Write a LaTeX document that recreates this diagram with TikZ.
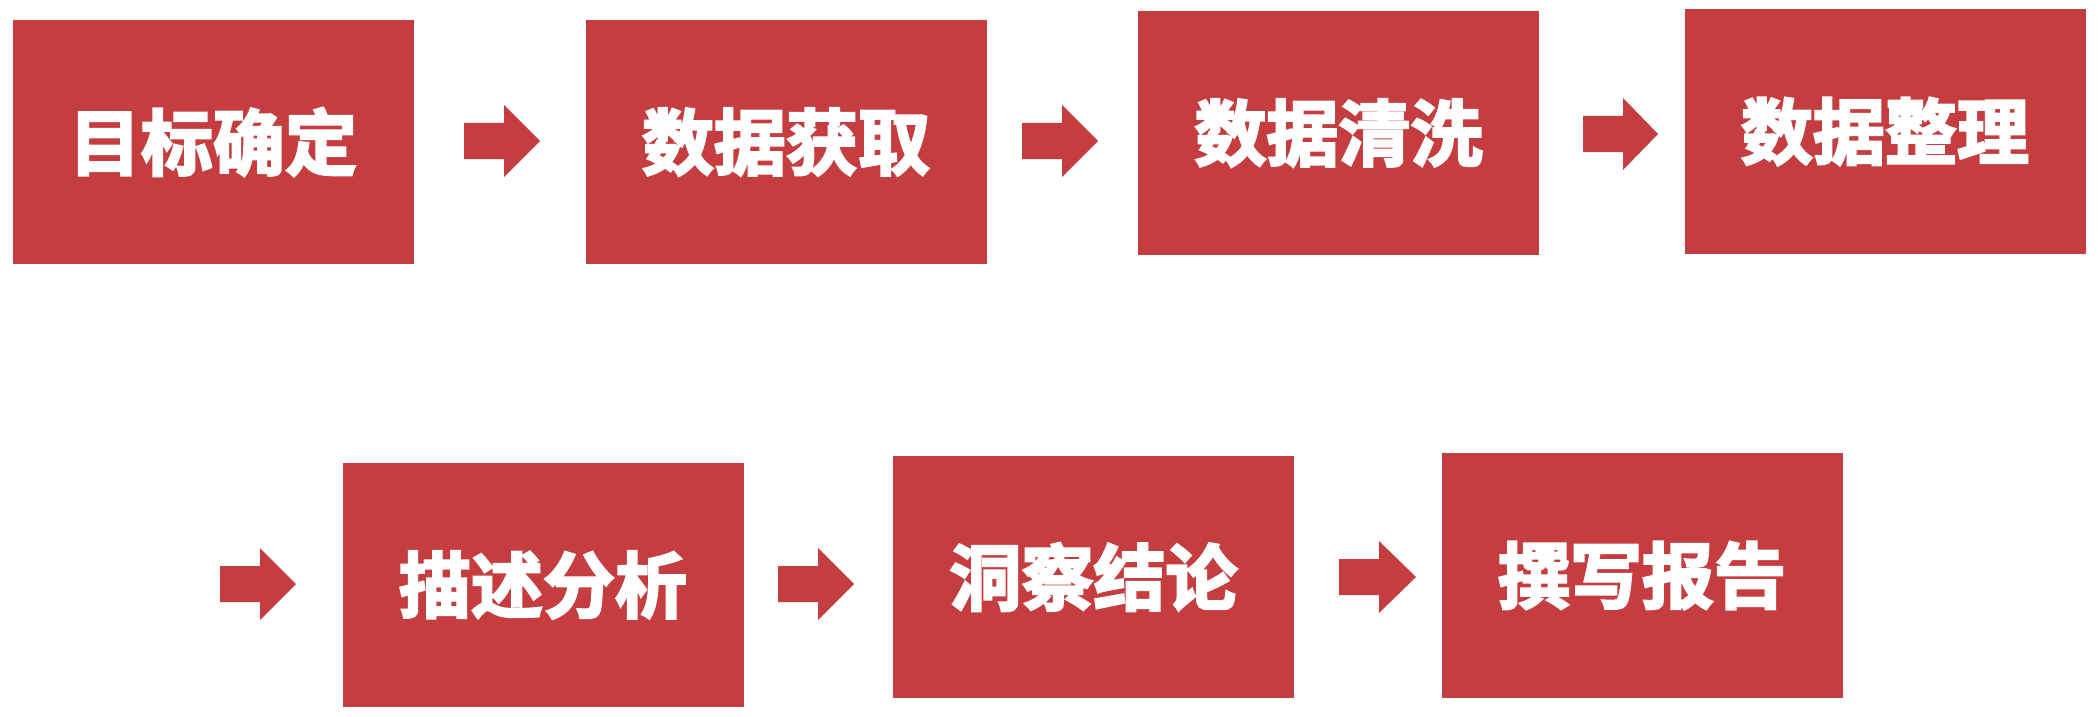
\documentclass[tikz,border=0pt]{standalone}
\usepackage{fontspec}
\newfontfamily\cjk{Noto Sans CJK SC Bold}
\definecolor{boxred}{RGB}{198,61,64}
\newcommand\blkarrow[3]{%
  \fill[boxred] (#1,#3-18) -- (#1+40,#3-18) -- (#1+40,#3-36) -- (#2,#3)
    -- (#1+40,#3+36) -- (#1+40,#3+18) -- (#1,#3+18) -- cycle;}
\newcommand\stagetext[1]{\special{pdf:literal direct 1 1 1 RG 2 Tr 1.2 w}#1\special{pdf:literal direct 0 Tr}}
\begin{document}
\begin{tikzpicture}[x=0.5pt,y=-0.5pt,
  stage/.style={fill=boxred, draw=none, inner sep=0pt, text=white,
    font=\cjk\fontsize{36}{36}\selectfont,
    minimum width=200.5pt, minimum height=122pt}]
\useasboundingbox (0,0) rectangle (2098,717);
\node[stage] (b1) at (213,142) {\stagetext{目标确定}};
\node[stage] (b2) at (786,142) {\stagetext{数据获取}};
\node[stage] (b3) at (1338.5,133) {\stagetext{数据清洗}};
\node[stage] (b4) at (1885,131.5) {\stagetext{数据整理}};
\node[stage] (b5) at (543,585) {\stagetext{描述分析}};
\node[stage, minimum height=121pt] (b6) at (1093.5,577) {\stagetext{洞察结论}};
\node[stage, minimum height=122.5pt] (b7) at (1642,575.5) {\stagetext{撰写报告}};
\blkarrow{464}{540}{141}
\blkarrow{1022}{1098}{141}
\blkarrow{1583}{1658}{134}
\blkarrow{220}{296}{584}
\blkarrow{778}{854}{584}
\blkarrow{1339}{1416}{577}
\end{tikzpicture}
\end{document}
